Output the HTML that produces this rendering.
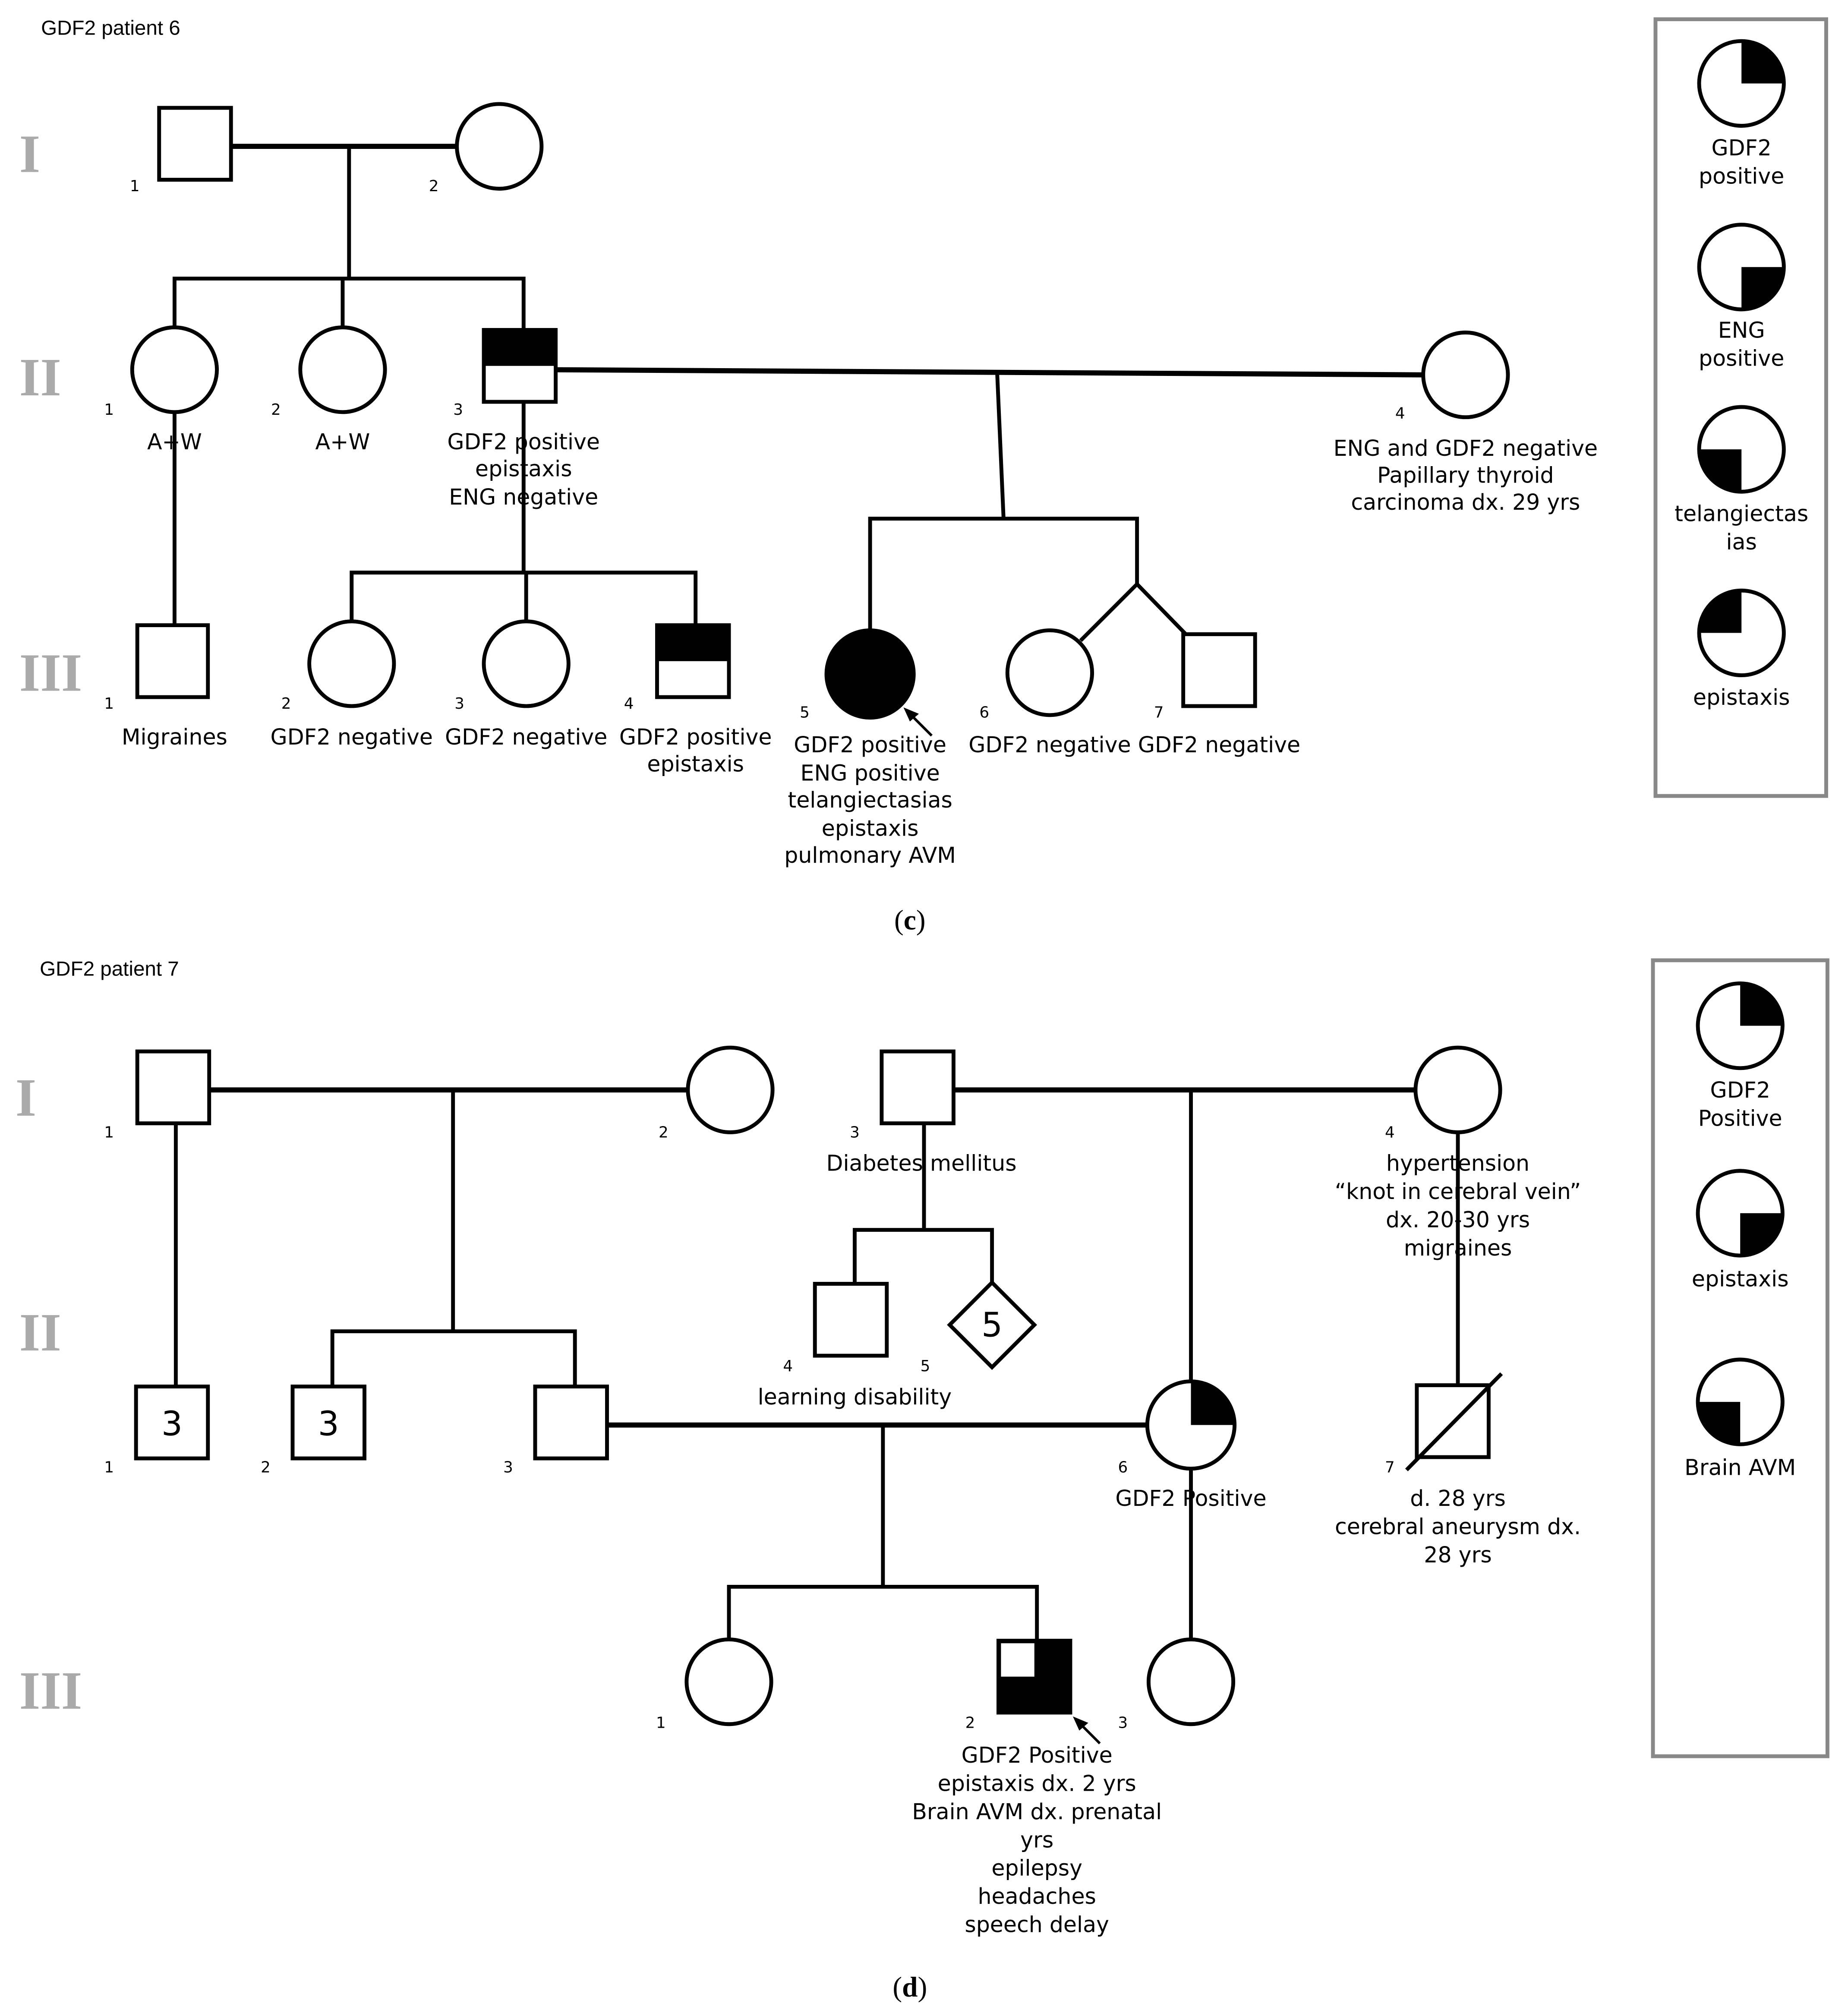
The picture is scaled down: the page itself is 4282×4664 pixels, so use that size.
<!DOCTYPE html>
<html><head><meta charset="utf-8"><style>
html,body{margin:0;padding:0;background:#fff;}
svg{display:block;}
text{font-family:"DejaVu Sans","Liberation Sans",sans-serif;fill:#000;}
.t{font-size:17px;text-anchor:middle;}
.n{font-size:12px;text-anchor:middle;}
.r{font-family:"Liberation Serif",serif;font-size:42px;font-weight:bold;fill:#aaa;}
.s{fill:none;stroke:#000;stroke-width:3;}
.m{stroke:#000;stroke-width:4;}
.w{fill:#fff;stroke:#000;stroke-width:3;}
</style></head><body>
<svg width="4282" height="4664" viewBox="0 0 1440 1568" preserveAspectRatio="none" xmlns="http://www.w3.org/2000/svg">
<!-- Panel c -->
<text x="32" y="27" font-size="16" style="font-family:'Liberation Sans',sans-serif">GDF2 patient 6</text>
<text class="r" x="15" y="134">I</text>
<text class="r" x="15" y="308">II</text>
<text class="r" x="15" y="538">III</text>
<line class="m" x1="180" y1="114" x2="356" y2="114"/>
<line class="m" x1="433" y1="288" x2="1109" y2="292"/>
<g class="s">
<line x1="272" y1="114" x2="272" y2="217"/>
<polyline points="136,255 136,217 408,217 408,257"/>
<line x1="267" y1="217" x2="267" y2="255"/>
<line x1="136" y1="321" x2="136" y2="487"/>
<line x1="408" y1="313" x2="408" y2="446"/>
<polyline points="274,484 274,446 542,446 542,487"/>
<line x1="410" y1="446" x2="410" y2="484"/>
<line x1="777" y1="290" x2="782" y2="404"/>
<polyline points="678,492 678,404 886,404 886,455"/>
<line x1="886" y1="455" x2="842" y2="499"/>
<line x1="886" y1="455" x2="925" y2="495"/>
</g>
<rect class="w" x="124" y="84" width="56" height="56"/>
<circle class="w" cx="389" cy="114" r="33"/>
<circle class="w" cx="136" cy="288" r="33"/>
<circle class="w" cx="267" cy="288" r="33"/>
<rect x="377" y="257" width="56" height="28" fill="#000"/>
<rect class="s" x="377" y="257" width="56" height="56"/>
<circle class="w" cx="1142" cy="292" r="33"/>
<rect class="w" x="107" y="487" width="55" height="56"/>
<circle class="w" cx="274" cy="517" r="33"/>
<circle class="w" cx="410" cy="517" r="33"/>
<rect x="512" y="487" width="56" height="28" fill="#000"/>
<rect class="s" x="512" y="487" width="56" height="56"/>
<circle cx="678" cy="525" r="34" fill="#000" stroke="#000" stroke-width="3"/>
<circle class="w" cx="818" cy="524" r="33"/>
<rect class="w" x="922" y="494" width="56" height="56"/>
<line x1="726" y1="573" x2="708" y2="555" stroke="#000" stroke-width="2"/>
<polygon points="704,551 716,556 709,562" fill="#000"/>
<text class="n" x="105" y="149">1</text><text class="n" x="338" y="149">2</text>
<text class="n" x="85" y="323">1</text><text class="n" x="215" y="323">2</text><text class="n" x="357" y="323">3</text><text class="n" x="1091" y="326">4</text>
<text class="n" x="85" y="552">1</text><text class="n" x="223" y="552">2</text><text class="n" x="358" y="552">3</text><text class="n" x="490" y="552">4</text><text class="n" x="627" y="559">5</text><text class="n" x="767" y="559">6</text><text class="n" x="903" y="559">7</text>
<text class="t" x="136" y="350">A+W</text><text class="t" x="267" y="350">A+W</text>
<text class="t" x="408" y="350">GDF2 positive</text><text class="t" x="408" y="371">epistaxis</text><text class="t" x="408" y="393">ENG negative</text>
<text class="t" x="1142" y="355">ENG and GDF2 negative</text><text class="t" x="1142" y="376">Papillary thyroid</text><text class="t" x="1142" y="397">carcinoma dx. 29 yrs</text>
<text class="t" x="136" y="580">Migraines</text><text class="t" x="274" y="580">GDF2 negative</text><text class="t" x="410" y="580">GDF2 negative</text>
<text class="t" x="542" y="580">GDF2 positive</text><text class="t" x="542" y="601">epistaxis</text>
<text class="t" x="678" y="586">GDF2 positive</text><text class="t" x="678" y="608">ENG positive</text><text class="t" x="678" y="629">telangiectasias</text><text class="t" x="678" y="651">epistaxis</text><text class="t" x="678" y="672">pulmonary AVM</text>
<text class="t" x="818" y="586">GDF2 negative</text><text class="t" x="950" y="586">GDF2 negative</text>
<text x="709" y="724" font-size="22" text-anchor="middle" style="font-family:'Liberation Serif',serif">(<tspan font-weight="bold">c</tspan>)</text>
<rect x="1290" y="15" width="133" height="605" fill="none" stroke="#888" stroke-width="3"/>
<circle class="w" cx="1357" cy="65" r="33"/><path d="M1357 65 L1357 32 A33 33 0 0 1 1390 65 Z"/>
<circle class="w" cx="1357" cy="208" r="33"/><path d="M1357 208 L1390 208 A33 33 0 0 1 1357 241 Z"/>
<circle class="w" cx="1357" cy="350" r="33"/><path d="M1357 350 L1357 383 A33 33 0 0 1 1324 350 Z"/>
<circle class="w" cx="1357" cy="493" r="33"/><path d="M1357 493 L1324 493 A33 33 0 0 1 1357 460 Z"/>
<text class="t" x="1357" y="121">GDF2</text><text class="t" x="1357" y="143">positive</text>
<text class="t" x="1357" y="263">ENG</text><text class="t" x="1357" y="285">positive</text>
<text class="t" x="1357" y="406">telangiectas</text><text class="t" x="1357" y="428">ias</text>
<text class="t" x="1357" y="549">epistaxis</text>
<!-- Panel d -->
<text x="31" y="760" font-size="16" style="font-family:'Liberation Sans',sans-serif">GDF2 patient 7</text>
<text class="r" x="12" y="869">I</text>
<text class="r" x="15" y="1052">II</text>
<text class="r" x="15" y="1331">III</text>
<line class="m" x1="163" y1="849" x2="536" y2="849"/>
<line class="m" x1="743" y1="849" x2="1103" y2="849"/>
<line class="m" x1="473" y1="1110" x2="894" y2="1110"/>
<g class="s">
<line x1="353" y1="849" x2="353" y2="1037"/>
<polyline points="259,1080 259,1037 448,1037 448,1080"/>
<line x1="137" y1="875" x2="137" y2="1080"/>
<line x1="928" y1="849" x2="928" y2="1077"/>
<line x1="720" y1="875" x2="720" y2="958"/>
<polyline points="666,1000 666,958 773,958 773,999"/>
<line x1="1136" y1="882" x2="1136" y2="1079"/>
<line x1="688" y1="1110" x2="688" y2="1236"/>
<polyline points="568,1277 568,1236 808,1236 808,1278"/>
<line x1="928" y1="1144" x2="928" y2="1277"/>
</g>
<rect class="w" x="107" y="819" width="56" height="56"/>
<circle class="w" cx="569" cy="849" r="33"/>
<rect class="w" x="687" y="819" width="56" height="56"/>
<circle class="w" cx="1136" cy="849" r="33"/>
<rect class="w" x="106" y="1080" width="56" height="56"/>
<rect class="w" x="228" y="1080" width="56" height="56"/>
<rect class="w" x="417" y="1080" width="56" height="56"/>
<rect class="w" x="635" y="1000" width="56" height="56"/>
<polygon class="w" points="773,999 806,1032 773,1065 740,1032"/>
<circle class="w" cx="928" cy="1110" r="34"/><path d="M928 1110 L928 1076 A34 34 0 0 1 962 1110 Z"/>
<rect class="w" x="1104" y="1079" width="56" height="56"/>
<line x1="1096" y1="1145" x2="1170" y2="1070" stroke="#000" stroke-width="3"/>
<circle class="w" cx="568" cy="1310" r="33"/>
<rect x="778" y="1278" width="56" height="56" fill="#000"/>
<rect x="780" y="1280" width="26" height="26" fill="#fff"/>
<rect class="s" x="778" y="1278" width="56" height="56"/>
<circle class="w" cx="928" cy="1310" r="33"/>
<line x1="857" y1="1358" x2="840" y2="1341" stroke="#000" stroke-width="2"/>
<polygon points="836,1337 848,1342 841,1348" fill="#000"/>
<text x="134" y="1118" font-size="26" text-anchor="middle">3</text>
<text x="256" y="1118" font-size="26" text-anchor="middle">3</text>
<text x="773" y="1041" font-size="26" text-anchor="middle">5</text>
<text class="n" x="85" y="886">1</text><text class="n" x="517" y="886">2</text><text class="n" x="666" y="886">3</text><text class="n" x="1083" y="886">4</text>
<text class="n" x="85" y="1147">1</text><text class="n" x="207" y="1147">2</text><text class="n" x="396" y="1147">3</text><text class="n" x="614" y="1068">4</text><text class="n" x="721" y="1068">5</text><text class="n" x="875" y="1147">6</text><text class="n" x="1083" y="1147">7</text>
<text class="n" x="515" y="1346">1</text><text class="n" x="756" y="1346">2</text><text class="n" x="875" y="1346">3</text>
<text class="t" x="718" y="912">Diabetes mellitus</text>
<text class="t" x="1136" y="912">hypertension</text><text class="t" x="1136" y="934">“knot in cerebral vein”</text><text class="t" x="1136" y="956">dx. 20-30 yrs</text><text class="t" x="1136" y="978">migraines</text>
<text class="t" x="666" y="1094">learning disability</text>
<text class="t" x="928" y="1173">GDF2 Positive</text>
<text class="t" x="1136" y="1173">d. 28 yrs</text><text class="t" x="1136" y="1195">cerebral aneurysm dx.</text><text class="t" x="1136" y="1217">28 yrs</text>
<text class="t" x="808" y="1373">GDF2 Positive</text><text class="t" x="808" y="1395">epistaxis dx. 2 yrs</text><text class="t" x="808" y="1417">Brain AVM dx. prenatal</text><text class="t" x="808" y="1439">yrs</text><text class="t" x="808" y="1461">epilepsy</text><text class="t" x="808" y="1483">headaches</text><text class="t" x="808" y="1505">speech delay</text>
<text x="709" y="1555" font-size="22" text-anchor="middle" style="font-family:'Liberation Serif',serif">(<tspan font-weight="bold">d</tspan>)</text>
<rect x="1288" y="748" width="136" height="620" fill="none" stroke="#888" stroke-width="3"/>
<circle class="w" cx="1356" cy="799" r="33"/><path d="M1356 799 L1356 766 A33 33 0 0 1 1389 799 Z"/>
<circle class="w" cx="1356" cy="945" r="33"/><path d="M1356 945 L1389 945 A33 33 0 0 1 1356 978 Z"/>
<circle class="w" cx="1356" cy="1092" r="33"/><path d="M1356 1092 L1356 1125 A33 33 0 0 1 1323 1092 Z"/>
<text class="t" x="1356" y="855">GDF2</text><text class="t" x="1356" y="877">Positive</text>
<text class="t" x="1356" y="1002">epistaxis</text>
<text class="t" x="1356" y="1149">Brain AVM</text>
</svg>
</body></html>
